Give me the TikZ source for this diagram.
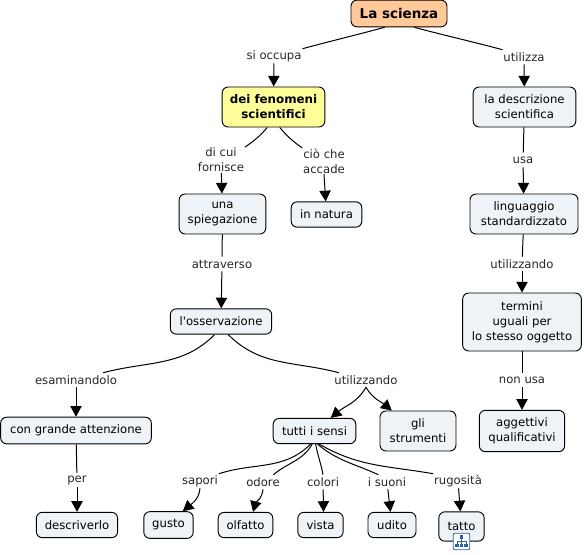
\documentclass[tikz,border=0pt]{standalone}
\usepackage{fontspec}
\setmainfont{DejaVu Sans}
\definecolor{mapBox}{HTML}{EDF3F6}
\definecolor{mapRoot}{HTML}{FFC999}
\definecolor{mapMain}{HTML}{FFFF99}
\definecolor{mapIcon}{HTML}{2F5FA8}
\usetikzlibrary{arrows.meta}
\tikzset{
  concept/.style={draw=black, line width=0.7pt, rounded corners=4.5pt, fill=mapBox, align=center, inner sep=0pt, font=\fontsize{8.75}{11.2}\selectfont},
  phrase/.style={align=center, inner sep=0.5pt, minimum height=10.5pt, text=black!85, font=\fontsize{8.75}{11.2}\selectfont},
  link/.style={line width=0.75pt},
  linkto/.style={line width=0.75pt, -{Triangle[length=8pt, width=8.5pt]}}
}

\begin{document}
\begin{tikzpicture}[x=0.75pt, y=-0.75pt]
  \useasboundingbox (0,0) rectangle (584,554);
  \node[concept, fill=mapRoot, minimum width=72pt, minimum height=20pt, font=\fontsize{10.1}{11.2}\bfseries\selectfont] (scienza) at (399,13.5) {La scienza};
  \node[concept, fill=mapMain, minimum width=77pt, minimum height=30pt, font=\fontsize{8.9}{11.2}\bfseries\selectfont] (fenomeni) at (273.5,107) {dei fenomeni\\scientifici};
  \node[concept, minimum width=77pt, minimum height=30pt] (descrizione) at (524.5,107) {la descrizione\\scientifica};
  \node[concept, minimum width=65pt, minimum height=30pt] (spiegazione) at (222.5,214) {una\\spiegazione};
  \node[concept, minimum width=53pt, minimum height=19pt] (natura) at (326.5,214.5) {in natura};
  \node[concept, minimum width=81pt, minimum height=30pt] (linguaggio) at (524,214) {linguaggio\\standardizzato};
  \node[concept, minimum width=76pt, minimum height=19pt] (osservazione) at (221,321.5) {l\textquotesingle osservazione};
  \node[concept, minimum width=89pt, minimum height=43.5pt] (termini) at (522,322) {termini\\uguali per\\lo stesso oggetto};
  \node[concept, minimum width=64pt, minimum height=31pt] (aggettivi) at (522,431) {aggettivi\\qualificativi};
  \node[concept, minimum width=113pt, minimum height=20pt] (attenzione) at (76,430.5) {con grande attenzione};
  \node[concept, minimum width=62pt, minimum height=19pt] (sensi) at (314.5,431) {tutti i sensi};
  \node[concept, minimum width=57pt, minimum height=30pt] (strumenti) at (418,431) {gli\\strumenti};
  \node[concept, minimum width=61pt, minimum height=19pt] (descriverlo) at (77,525) {descriverlo};
  \node[concept, minimum width=37pt, minimum height=20pt] (gusto) at (168.5,525) {gusto};
  \node[concept, minimum width=41pt, minimum height=19pt] (olfatto) at (245.5,525) {olfatto};
  \node[concept, minimum width=34pt, minimum height=19pt] (vista) at (320.5,525) {vista};
  \node[concept, minimum width=36pt, minimum height=19pt] (udito) at (392,525) {udito};
  \node[concept, minimum width=34pt, minimum height=22pt] (tatto) at (461.5,526.5) {tatto};
  \node[draw=mapIcon, line width=0.6pt, rounded corners=1.5pt, fill=white, minimum size=12.5pt, inner sep=0pt] (tattoicon) at (461.5,541.5) {};
  \node[fill=mapIcon, minimum size=2.4pt, inner sep=0pt] (icontop) at (461.5,537) {};
  \node[fill=mapIcon, minimum size=2.4pt, inner sep=0pt] (iconleft) at (457,545.5) {};
  \node[fill=mapIcon, minimum size=2.4pt, inner sep=0pt] (iconmid) at (461.5,545.5) {};
  \node[fill=mapIcon, minimum size=2.4pt, inner sep=0pt] (iconright) at (466,545.5) {};
  \draw[mapIcon, line width=0.4pt] (icontop) -- (iconmid);
  \draw[mapIcon, line width=0.4pt] (iconleft) |- (461.5,541) -| (iconright);

  \node[phrase] (occupa) at (274,56) {si occupa};
  \node[phrase] (utilizza) at (524,57) {utilizza};
  \node[phrase] (dicui) at (221,160) {di cui\\fornisce};
  \node[phrase] (che) at (324,161) {ciò che\\accade};
  \node[phrase] (usa) at (523,160) {usa};
  \node[phrase] (attraverso) at (222,264) {attraverso};
  \node[phrase] (utilizzandoA) at (522,264) {utilizzando};
  \node[phrase] (nonusa) at (522,380) {non usa};
  \node[phrase] (esaminandolo) at (76,380) {esaminandolo};
  \node[phrase] (utilizzandoB) at (366,380) {utilizzando};
  \node[phrase] (per) at (77,480) {per};
  \node[phrase] (sapori) at (200,481) {sapori};
  \node[phrase] (odore) at (263,482) {odore};
  \node[phrase] (colori) at (323,482) {colori};
  \node[phrase] (suoni) at (387,482) {i suoni};
  \node[phrase] (rugosita) at (458,481) {rugosità};

  \draw[link] (scienza.224) to[out=195, in=15] (occupa.north east);
  \draw[linkto] (occupa) -- (fenomeni);
  \draw[link] (scienza.318) to[out=-15, in=165] (utilizza.north west);
  \draw[linkto] (utilizza) -- (descrizione);
  \draw[link] (fenomeni.253) to[out=230, in=35] (dicui.north east);
  \draw[linkto] (dicui) -- (spiegazione);
  \draw[link] (fenomeni.287) to[out=310, in=145] (che.north west);
  \draw[linkto] (che.south) -- (natura);
  \draw[link] (descrizione) -- (usa);
  \draw[linkto] (usa) -- (linguaggio);
  \draw[link] (spiegazione) -- (attraverso);
  \draw[linkto] (attraverso) -- (osservazione);
  \draw[link] (linguaggio) -- (utilizzandoA);
  \draw[linkto] (utilizzandoA) -- (termini);
  \draw[link] (termini) -- (nonusa);
  \draw[linkto] (nonusa) -- (aggettivi);
  \draw[link] (osservazione.244) to[out=225, in=15] (esaminandolo.15);
  \draw[linkto] (esaminandolo) -- (attenzione);
  \draw[link] (osservazione.299) to[out=315, in=165] (utilizzandoB.165);
  \draw[linkto] (utilizzandoB.south) to[out=240, in=40] (sensi.39);
  \draw[linkto] (utilizzandoB.south) to[out=300, in=140] (strumenti.142);
  \draw[link] (attenzione) -- (per);
  \draw[linkto] (per) -- (descriverlo);
  \draw[link] (sensi.253) to[out=225, in=18] (sapori.north east);
  \draw[linkto] (sapori.south) to[out=265, in=40] (gusto.44);
  \draw[link] (sensi.260) to[out=240, in=40] (odore.35);
  \draw[linkto] (odore.south) to[out=265, in=75] (olfatto.60);
  \draw[link] (sensi.275) to[out=280, in=100] (colori.north);
  \draw[linkto] (colori) -- (vista.77);
  \draw[link] (sensi.283) to[out=320, in=155] (suoni.140);
  \draw[linkto] (suoni) -- (udito);
  \draw[link] (sensi.290) to[out=330, in=170] (rugosita.north west);
  \draw[linkto] (rugosita) -- (tatto);
\end{tikzpicture}
\end{document}
